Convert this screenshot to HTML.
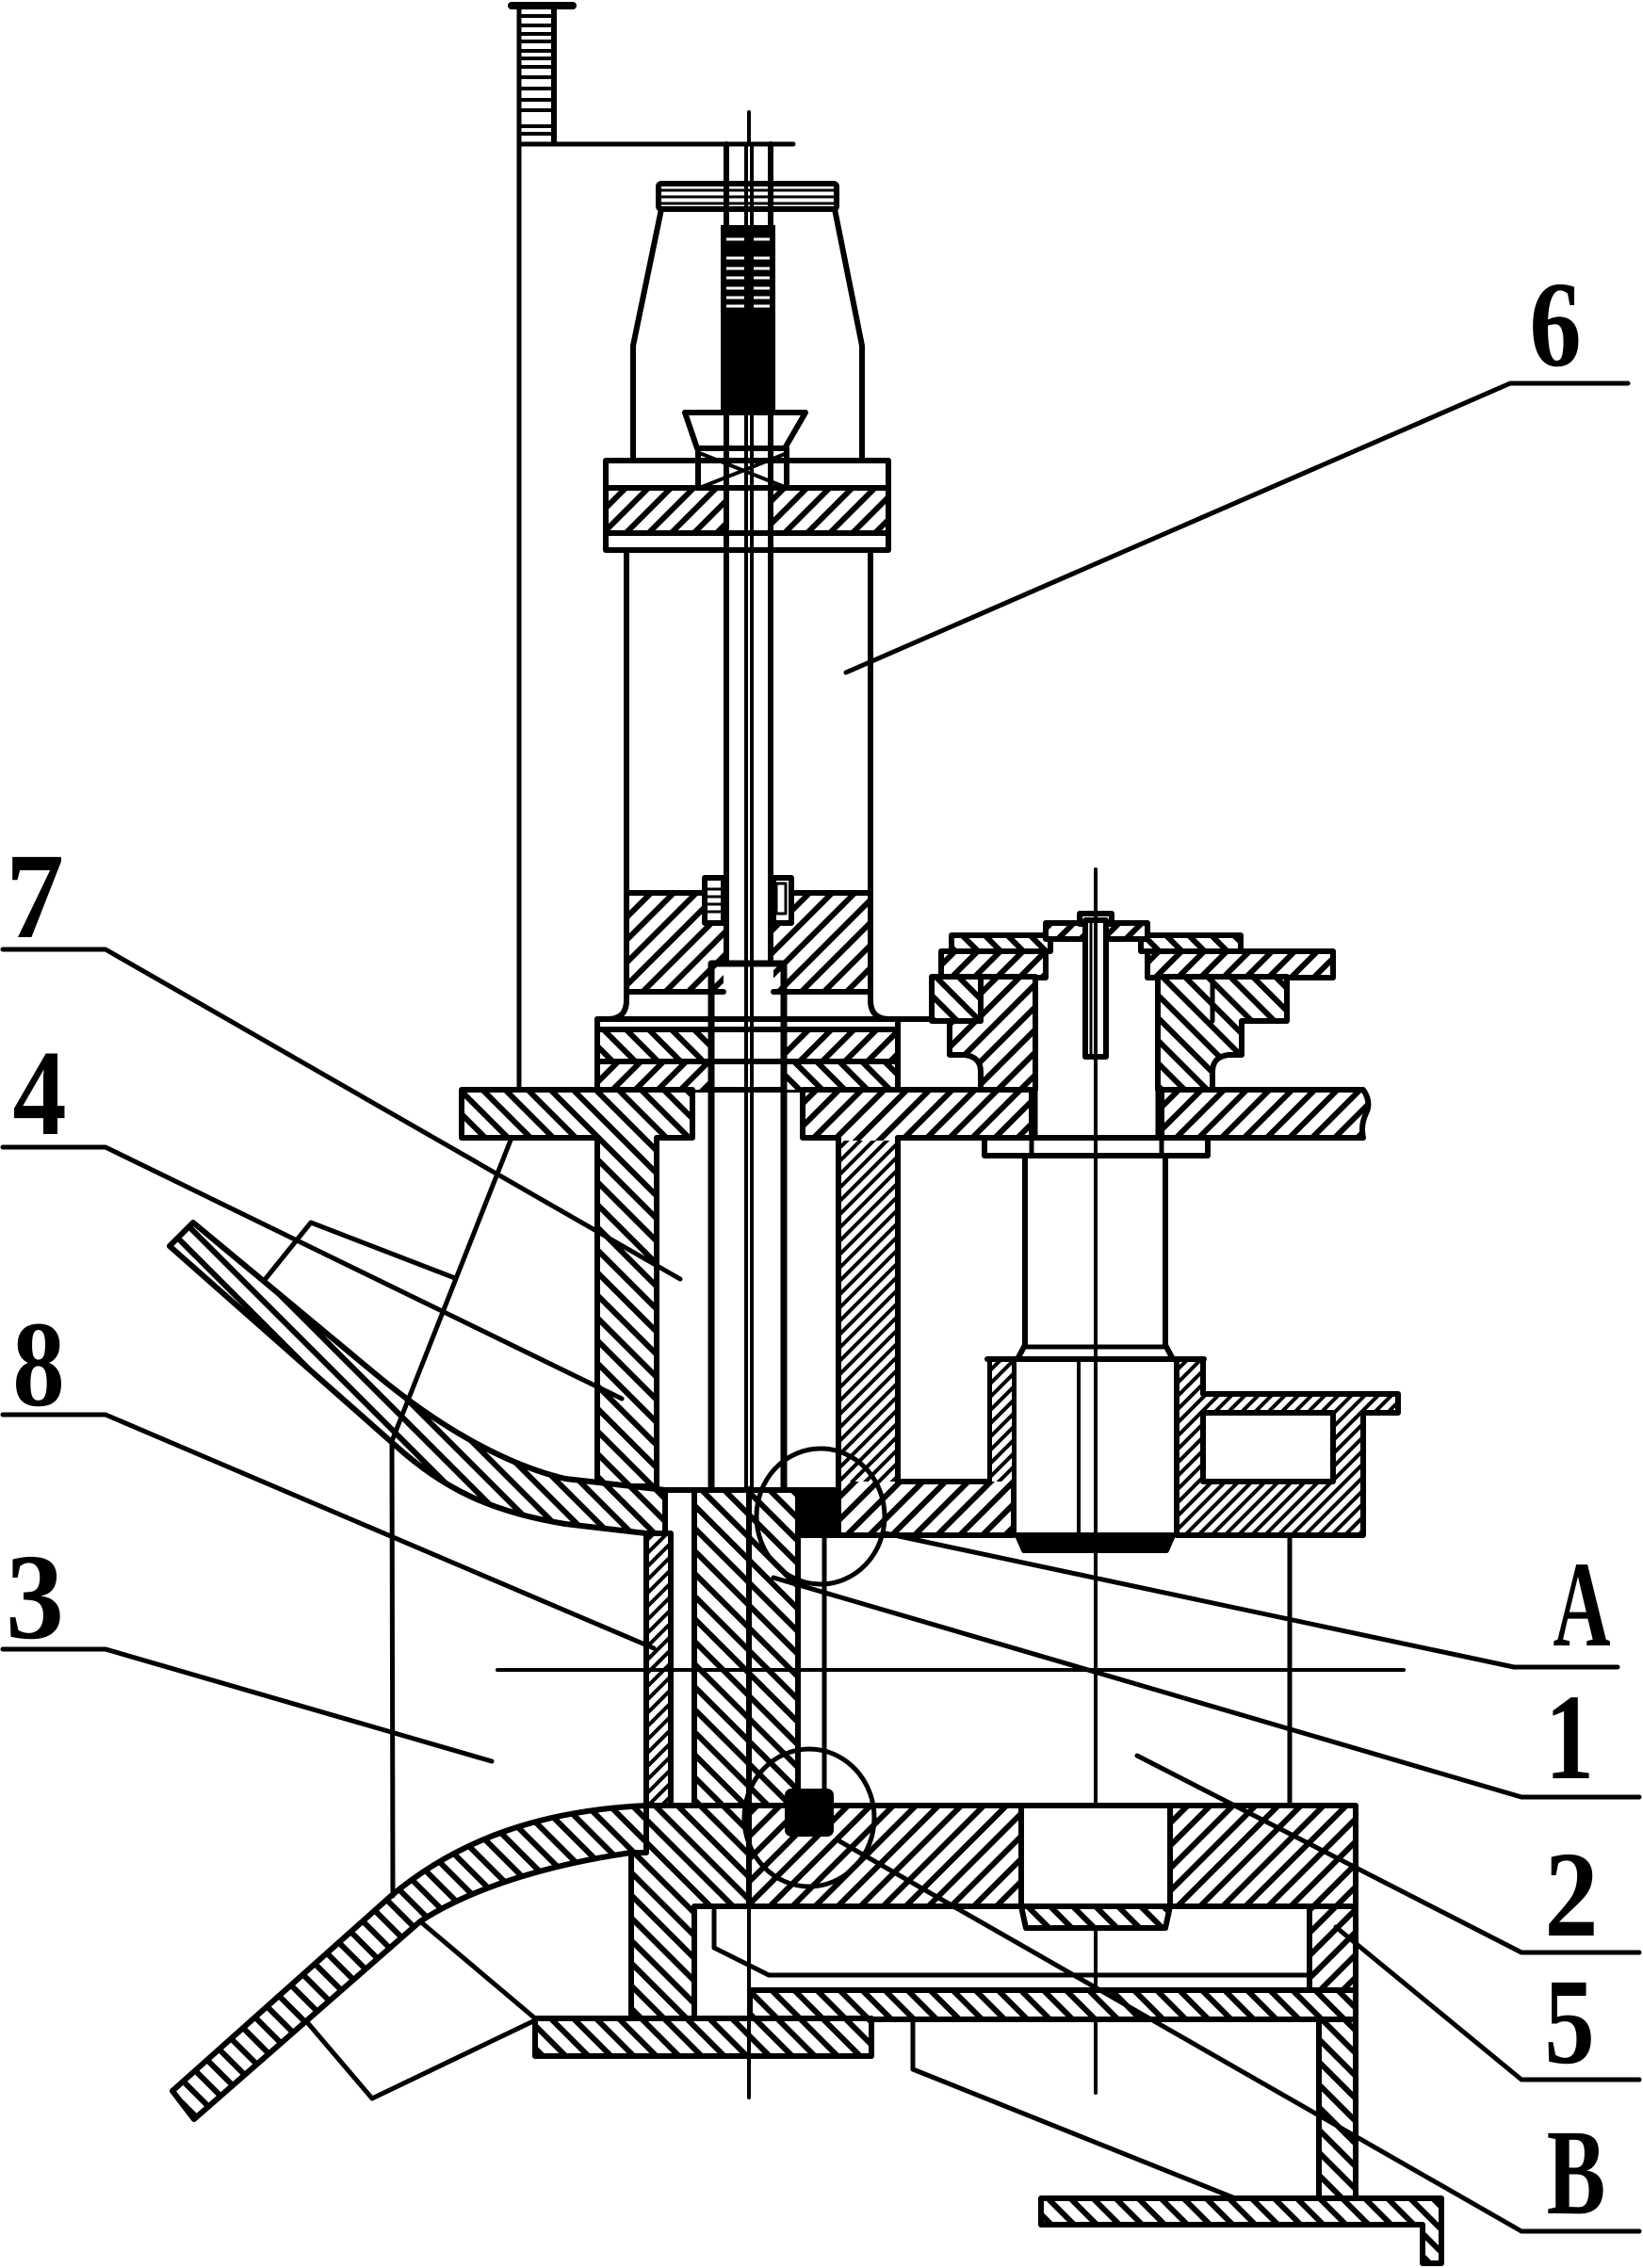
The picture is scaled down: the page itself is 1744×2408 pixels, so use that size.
<!DOCTYPE html>
<html><head><meta charset="utf-8"><style>
html,body{margin:0;padding:0;background:#fff;}
svg{display:block;}
</style></head><body>
<svg xmlns="http://www.w3.org/2000/svg" width="1744" height="2408" viewBox="0 0 1744 2408">
<defs>
<pattern id="hA" width="17" height="17" patternUnits="userSpaceOnUse" patternTransform="rotate(45)"><rect width="17" height="17" fill="#fff"/><rect width="6" height="17" fill="#000"/></pattern>
<pattern id="hB" width="17" height="17" patternUnits="userSpaceOnUse" patternTransform="rotate(-45)"><rect width="17" height="17" fill="#fff"/><rect width="6" height="17" fill="#000"/></pattern>
<pattern id="hAf" width="10" height="10" patternUnits="userSpaceOnUse" patternTransform="rotate(45)"><rect width="10" height="10" fill="#fff"/><rect width="4" height="10" fill="#000"/></pattern>
<pattern id="hBf" width="10" height="10" patternUnits="userSpaceOnUse" patternTransform="rotate(-45)"><rect width="10" height="10" fill="#fff"/><rect width="4" height="10" fill="#000"/></pattern>
</defs>
<rect width="1744" height="2408" fill="#fff"/>
<g fill="none" stroke="#000" stroke-width="6" stroke-linejoin="round" stroke-linecap="round">

<!-- top threaded rod -->
<line x1="551" y1="6" x2="551" y2="1157" stroke-width="5"/>
<line x1="588" y1="8" x2="588" y2="151" stroke-width="6"/>
<line x1="543" y1="6" x2="608" y2="6" stroke-width="8"/>
<g stroke-width="4">
<line x1="551" y1="17" x2="588" y2="17"/><line x1="551" y1="27" x2="588" y2="27"/><line x1="551" y1="36" x2="588" y2="36"/>
<line x1="551" y1="44" x2="588" y2="44"/><line x1="551" y1="54" x2="588" y2="54"/><line x1="551" y1="62" x2="588" y2="62"/>
<line x1="551" y1="71" x2="588" y2="71"/><line x1="551" y1="82" x2="588" y2="82"/><line x1="551" y1="94" x2="588" y2="94"/>
<line x1="551" y1="106" x2="588" y2="106"/><line x1="551" y1="117" x2="588" y2="117"/><line x1="551" y1="134" x2="588" y2="134"/>
<line x1="551" y1="142" x2="588" y2="142"/>
</g>
<line x1="551" y1="153" x2="842" y2="153" stroke-width="5"/>

<!-- part 6 cap & housing -->
<rect x="699" y="195" width="189" height="27" rx="3" fill="#fff"/>
<g stroke-width="3"><line x1="702" y1="202" x2="885" y2="202"/><line x1="702" y1="209" x2="885" y2="209"/><line x1="702" y1="216" x2="885" y2="216"/></g>
<polyline points="702,222 672,367 672,489"/>
<polyline points="886,222 915,367 915,489"/>

<!-- flange of part 6 -->
<rect x="643" y="489" width="300" height="95" fill="#fff"/>
<rect x="646" y="518" width="122" height="48" fill="url(#hA)" stroke="none"/>
<rect x="820" y="518" width="120" height="48" fill="url(#hA)" stroke="none"/>
<line x1="643" y1="518" x2="943" y2="518"/>
<line x1="643" y1="566" x2="943" y2="566"/>

<!-- cone nut -->
<polygon points="727,438 855,438 833,476 740,476" fill="#fff"/>
<line x1="741" y1="476" x2="741" y2="517"/>
<line x1="835" y1="476" x2="835" y2="517"/>

<!-- cylinder walls -->
<path d="M665,584 V1062 Q665,1082 645,1082 H634"/>
<path d="M924,584 V1062 Q924,1082 944,1082 H990"/>

<!-- piston -->
<rect x="668" y="948" width="100" height="105" fill="url(#hA)" stroke="none"/>
<rect x="821" y="948" width="100" height="105" fill="url(#hA)" stroke="none"/>
<line x1="665" y1="948" x2="768" y2="948"/><line x1="821" y1="948" x2="924" y2="948"/>
<line x1="665" y1="1053" x2="768" y2="1053"/><line x1="821" y1="1053" x2="924" y2="1053"/>
<rect x="748" y="932" width="20" height="48" fill="#fff"/>
<g stroke-width="3"><line x1="750" y1="944" x2="766" y2="944"/><line x1="750" y1="952" x2="766" y2="952"/><line x1="750" y1="960" x2="766" y2="960"/><line x1="750" y1="968" x2="766" y2="968"/></g>
<rect x="821" y="932" width="19" height="48" fill="#fff"/>
<rect x="824" y="938" width="10" height="32" stroke-width="3"/>

<!-- plates under cylinder -->
<rect x="634" y="1082" width="319" height="75" fill="#fff"/>
<rect x="637" y="1093" width="115" height="34" fill="url(#hB)" stroke="none"/>
<rect x="835" y="1093" width="115" height="34" fill="url(#hA)" stroke="none"/>
<rect x="637" y="1127" width="115" height="30" fill="url(#hA)" stroke="none"/>
<rect x="835" y="1127" width="115" height="30" fill="url(#hB)" stroke="none"/>
<line x1="634" y1="1093" x2="953" y2="1093"/>
<line x1="634" y1="1127" x2="953" y2="1127"/>

<!-- rod lines -->
<line x1="771" y1="153" x2="771" y2="1023"/>
<line x1="818" y1="153" x2="818" y2="1023"/>
<line x1="795" y1="119" x2="795" y2="153" stroke-width="4"/>
<line x1="792" y1="153" x2="792" y2="1580" stroke-width="4"/>
<line x1="798" y1="153" x2="798" y2="1580" stroke-width="4"/>

<!-- black threaded block -->
<rect x="765" y="239" width="58" height="197" fill="#000" stroke="none"/>
<g stroke="#fff" stroke-width="3" stroke-linecap="butt">
<line x1="771" y1="254" x2="790" y2="254"/><line x1="800" y1="254" x2="817" y2="254"/>
<line x1="771" y1="274" x2="790" y2="274"/><line x1="800" y1="274" x2="817" y2="274"/>
<line x1="771" y1="285" x2="790" y2="285"/><line x1="800" y1="285" x2="817" y2="285"/>
<line x1="771" y1="295" x2="790" y2="295"/><line x1="800" y1="295" x2="817" y2="295"/>
<line x1="771" y1="306" x2="790" y2="306"/><line x1="800" y1="306" x2="817" y2="306"/>
<line x1="771" y1="316" x2="790" y2="316"/><line x1="800" y1="316" x2="817" y2="316"/>
<line x1="771" y1="325" x2="790" y2="325"/><line x1="800" y1="325" x2="817" y2="325"/>
</g>
<line x1="745" y1="482" x2="833" y2="517" stroke-width="4"/>
<line x1="833" y1="482" x2="745" y2="517" stroke-width="4"/>

<!-- tube -->
<path d="M755,1580 V1023 H832 V1580" stroke-width="7"/>

<!-- left flange T (part 4) -->
<path d="M490,1157 H735 V1208 H697 V1578 H634 V1208 H490 Z" fill="url(#hB)"/>

<!-- right flange & U -->
<path d="M852,1157 H1095 V1208 H953 V1573 H1051 V1443 H1076 V1630 H890 V1208 H852 Z" fill="url(#hA)"/>
<rect x="893" y="1211" width="57" height="362" fill="url(#hAf)" stroke="none"/>
<rect x="1053" y="1446" width="21" height="127" fill="url(#hAf)" stroke="none"/>
<line x1="953" y1="1573" x2="953" y2="1208"/>
<path d="M1233,1157 H1447 Q1456,1170 1450,1182 Q1444,1195 1447,1208 H1233 Z" fill="url(#hA)"/>
<path d="M1249,1443 H1277 V1480 H1484 V1500 H1447 V1630 H1249 Z M1277,1500 H1415 V1573 H1277 Z" fill="url(#hAf)" fill-rule="evenodd"/>
<line x1="953" y1="1082" x2="953" y2="1157"/>

<!-- washer & bolt -->
<rect x="1045" y="1208" width="237" height="19" fill="#fff"/>
<line x1="1095" y1="1208" x2="1095" y2="1227" stroke-width="5"/>
<line x1="1233" y1="1208" x2="1233" y2="1227" stroke-width="5"/>
<path d="M1088,1227 V1428 L1080,1443 M1237,1227 V1428 L1245,1443"/>
<line x1="1088" y1="1430" x2="1237" y2="1430" stroke-width="5"/>
<line x1="1048" y1="1443" x2="1278" y2="1443"/>
<line x1="1145" y1="1443" x2="1145" y2="1630" stroke-width="4"/>
<polygon points="1080,1630 1245,1630 1238,1646 1087,1646" fill="#000"/>

<!-- hub plates on top -->
<rect x="1010" y="993" width="105" height="17" fill="url(#hB)"/>
<rect x="1211" y="993" width="106" height="17" fill="url(#hB)"/>
<rect x="999" y="1010" width="111" height="28" fill="url(#hA)"/>
<rect x="1218" y="1010" width="197" height="28" fill="url(#hA)"/>
<rect x="1110" y="980" width="108" height="17" fill="url(#hA)"/>
<rect x="989" y="1037" width="52" height="47" fill="url(#hB)"/>
<path d="M1041,1037 H1099 V1157 H1041 V1138 Q1041,1122 1024,1120 H1008 V1084 H1041 Z" fill="url(#hA)"/>
<path d="M1229,1037 H1366 V1084 H1318 V1120 H1304 Q1287,1122 1287,1138 V1157 H1229 Z" fill="url(#hB)"/>
<line x1="1287" y1="1037" x2="1287" y2="1084" stroke-width="5"/>
<line x1="1099" y1="1037" x2="1099" y2="1208" stroke-width="5"/>
<line x1="1229" y1="1037" x2="1229" y2="1208" stroke-width="5"/>
<rect x="1146" y="970" width="34" height="11" fill="#fff"/>
<rect x="1152" y="977" width="22" height="145" fill="#fff"/>
<line x1="1158" y1="981" x2="1158" y2="1120" stroke-width="3"/>
<line x1="1163" y1="923" x2="1163" y2="2222" stroke-width="4"/>

<!-- funnel band part 4 -->
<path d="M205,1298 L400,1460 C470,1518 540,1556 600,1570 L706,1582 L706,1628 L686,1628 L600,1618 C520,1605 470,1580 420,1535 L180,1323 Z" fill="url(#hB)"/>

<!-- lower column -->
<rect x="686" y="1628" width="26" height="289" fill="url(#hAf)"/>
<rect x="737" y="1582" width="58" height="335" fill="url(#hB)"/>
<rect x="795" y="1582" width="52" height="335" fill="url(#hB)"/>
<line x1="706" y1="1582" x2="890" y2="1582"/>
<line x1="875" y1="1630" x2="875" y2="1902" stroke-width="5"/>
<rect x="847" y="1582" width="43" height="48" fill="#000"/>

<!-- lower funnel part 3 -->
<path d="M183,2220 L415,2013 C490,1950 580,1922 686,1917 V1967 H670 C580,1980 500,2005 446,2040 L206,2250 Z" fill="url(#hB)"/>

<!-- base -->
<path d="M686,1917 H795 V2024 H737 V2143 H670 V1967 H686 Z" fill="url(#hB)"/>
<rect x="795" y="1917" width="644" height="107" fill="url(#hA)"/>
<rect x="1084" y="1917" width="158" height="107" fill="#fff"/>
<polygon points="1084,2024 1242,2024 1237,2047 1089,2047" fill="url(#hB)"/>
<rect x="1390" y="2024" width="49" height="89" fill="url(#hA)"/>
<rect x="796" y="2113" width="643" height="31" fill="url(#hB)"/>
<rect x="1400" y="2144" width="39" height="190" fill="url(#hB)"/>
<path d="M1105,2334 H1530 V2403 H1510 V2362 H1105 Z" fill="url(#hB)"/>
<rect x="568" y="2143" width="357" height="40" fill="url(#hB)"/>
<polyline points="758,2028 758,2068 816,2097 1390,2097" stroke-width="5"/>
<rect x="836" y="1902" width="46" height="45" rx="4" fill="#000"/>
<line x1="795" y1="1580" x2="795" y2="2227" stroke-width="4"/>

<!-- circles -->
<ellipse cx="871" cy="1610" rx="68" ry="72" stroke-width="5"/>
<ellipse cx="859" cy="1930" rx="69" ry="73" stroke-width="5"/>

<!-- misc lines -->
<polyline points="543,1208 416,1530 417,2013" stroke-width="5"/>
<polyline points="280,1360 330,1298 483,1357" stroke-width="5"/>
<line x1="528" y1="1773" x2="1490" y2="1773" stroke-width="4"/>
<line x1="1369" y1="1630" x2="1369" y2="1917" stroke-width="5"/>
<polyline points="969,2145 969,2197 1311,2334" stroke-width="5"/>
<line x1="446" y1="2040" x2="568" y2="2143" stroke-width="5"/>
<polyline points="326,2147 395,2228 568,2145" stroke-width="5"/>

<!-- leaders -->
<g stroke-width="5">
<polyline points="3,1008 112,1008 722,1358"/>
<polyline points="3,1218 112,1218 660,1485"/>
<polyline points="3,1502 112,1502 694,1750"/>
<polyline points="3,1751 112,1751 522,1870"/>
<polyline points="1728,407 1603,407 898,714"/>
<polyline points="1717,1770 1607,1770 940,1628"/>
<polyline points="1740,1908 1615,1908 821,1675"/>
<polyline points="1740,2073 1615,2073 1207,1864"/>
<polyline points="1740,2208 1615,2208 1418,2046"/>
<polyline points="1740,2369 1615,2369 888,1953"/>
</g>
</g>

<g font-family="'Liberation Serif', serif" font-weight="bold" font-size="130" fill="#000" text-anchor="middle">
<text transform="translate(37,995) scale(0.95,1)">7</text>
<text transform="translate(42,1204) scale(0.88,1)">4</text>
<text transform="translate(41,1492) scale(0.85,1)">8</text>
<text transform="translate(37,1739) scale(0.95,1)">3</text>
<text transform="translate(1651,388) scale(0.85,1)">6</text>
<text transform="translate(1679,1747) scale(0.65,1)">A</text>
<text transform="translate(1666,1888) scale(0.8,1)">1</text>
<text transform="translate(1668,2055) scale(0.88,1)">2</text>
<text transform="translate(1666,2190) scale(0.82,1)">5</text>
<text transform="translate(1673,2350) scale(0.72,1)">B</text>
</g>
</svg>
</body></html>
